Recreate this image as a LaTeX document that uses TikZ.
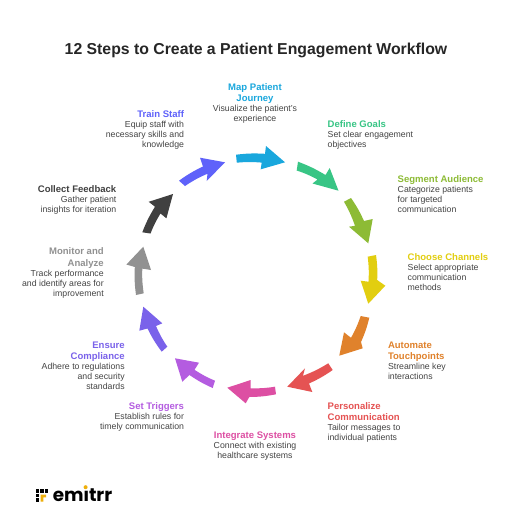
\documentclass[tikz,border=0pt]{standalone}
\usepackage{fontspec}
\setmainfont{Liberation Sans}
\newfontfamily\logofont{Poppins}
\definecolor{cmap}{HTML}{19A7DD}
\definecolor{cgoal}{HTML}{38C585}
\definecolor{cseg}{HTML}{8DBB35}
\definecolor{cchan}{HTML}{E2CE10}
\definecolor{cauto}{HTML}{E0822C}
\definecolor{cpers}{HTML}{E55353}
\definecolor{cinte}{HTML}{DD4FA3}
\definecolor{ctrig}{HTML}{B45CE0}
\definecolor{ccomp}{HTML}{7A62EA}
\definecolor{cmoni}{HTML}{919191}
\definecolor{ccoll}{HTML}{404040}
\definecolor{ctrain}{HTML}{5F62FA}
\definecolor{bodyc}{HTML}{444444}
\newcommand\tl[2]{\textcolor{#1}{\bfseries\fontsize{7.15}{7.5}\selectfont #2}}
\newcommand\arrowshape[8]{%
  \fill[#1] #2 to[bend left=5] #3 -- #4 -- #5 -- #6 -- #7 to[bend right=5] #8 -- cycle;}
\tikzset{
  lab/.style={inner sep=0pt,outer sep=0pt,text=bodyc,font=\fontsize{6.55}{7.5}\selectfont},
  labl/.style={lab,anchor=north west,align=left,yshift=-0.5pt},
  labr/.style={lab,anchor=north east,align=right,yshift=-0.5pt},
  labc/.style={lab,anchor=north,align=center,yshift=-0.5pt},
  sq/.style={fill=black},
}
\begin{document}
\begin{tikzpicture}[x=0.75pt,y=-0.75pt]
\useasboundingbox (0,0) rectangle (508,512);
\fill[white] (0,0) rectangle (508,512);
\node[inner sep=0pt,text=black!85,font=\fontsize{11.85}{14}\selectfont\bfseries] (title) at (256,50) {12 Steps to Create a Patient Engagement Workflow};
% arrows
\arrowshape{cmap}{(236,154.7)}{(265,153.8)}{(266,146)}{(285,162.3)}{(260.7,169.3)}{(261.7,162.6)}{(236.8,162.7)}
\arrowshape{cgoal}{(298,161.7)}{(325.5,175)}{(329.7,168)}{(338.5,190.7)}{(312.5,183.5)}{(317.5,179.5)}{(296.7,170.5)}
\arrowshape{cseg}{(351,198)}{(364,221)}{(372.7,219)}{(368.3,243.3)}{(349,226.7)}{(355,225.8)}{(344,201.7)}
\arrowshape{cchan}{(376,255)}{(377.2,280)}{(385.3,285.7)}{(368.3,303.7)}{(360.7,280.7)}{(368.5,281.7)}{(367.7,256.7)}
\arrowshape{cauto}{(369.3,317.7)}{(361,342)}{(362.7,348.3)}{(339.3,355.7)}{(344,332.3)}{(351,337.8)}{(360.7,316)}
\arrowshape{cpers}{(332.7,370)}{(309,383.5)}{(312.3,392)}{(287.3,386.7)}{(305,368.3)}{(303,375.8)}{(328.3,363.3)}
\arrowshape{cinte}{(276,394.3)}{(249.3,397)}{(245.7,403.3)}{(227.3,387.7)}{(250.7,380)}{(250.7,388.3)}{(275,386.7)}
\arrowshape{ctrig}{(212.7,388)}{(189.5,375)}{(182.3,381.7)}{(175,358.3)}{(199,362.7)}{(194.5,369.8)}{(215,380.7)}
\arrowshape{ccomp}{(161.7,351.7)}{(147.5,328.5)}{(139.3,330.7)}{(143.3,306.7)}{(162.3,323.3)}{(156,326)}{(167.3,346.7)}
\arrowshape{cmoni}{(136,295)}{(134.8,267)}{(126.4,264.5)}{(143.3,246.7)}{(151,270)}{(142.3,268.6)}{(143.7,293.3)}
\arrowshape{ccoll}{(142.3,232.3)}{(155,206.7)}{(148.7,201.8)}{(173,194)}{(166.4,218.3)}{(160.5,213.5)}{(150.5,233.5)}
\arrowshape{ctrain}{(179,180.7)}{(203,166.5)}{(200,157.7)}{(225,162.3)}{(206.7,181)}{(207.5,173.7)}{(185,186)}
% labels
\node[labc] (l1) at (255,82.5) {\tl{cmap}{Map Patient}\\[1.2pt]\tl{cmap}{Journey}\\Visualize the patient's\\experience};
\node[labl] (l2) at (327.7,119.5) {\tl{cgoal}{Define Goals}\\Set clear engagement\\objectives};
\node[labl] (l3) at (397.7,174.5) {\tl{cseg}{Segment Audience}\\Categorize patients\\for targeted\\communication};
\node[labl] (l4) at (407.7,253) {\tl{cchan}{Choose Channels}\\Select appropriate\\communication\\methods};
\node[labl] (l5) at (388,341) {\tl{cauto}{Automate}\\[1.2pt]\tl{cauto}{Touchpoints}\\Streamline key\\interactions};
\node[labl] (l6) at (327.7,401.5) {\tl{cpers}{Personalize}\\[1.2pt]\tl{cpers}{Communication}\\Tailor messages to\\individual patients};
\node[labc] (l7) at (255,431.5) {\tl{cinte}{Integrate Systems}\\Connect with existing\\healthcare systems};
\node[labr] (l8) at (184,401.5) {\tl{ctrig}{Set Triggers}\\Establish rules for\\timely communication};
\node[labr] (l9) at (124.7,341) {\tl{ccomp}{Ensure}\\[1.2pt]\tl{ccomp}{Compliance}\\Adhere to regulations\\and security\\standards};
\node[labr] (l10) at (103.7,247) {\tl{cmoni}{Monitor and}\\[1.2pt]\tl{cmoni}{Analyze}\\Track performance\\and identify areas for\\improvement};
\node[labr] (l11) at (116.3,184.5) {\tl{ccoll}{Collect Feedback}\\Gather patient\\insights for iteration};
\node[labr] (l12) at (184,109.5) {\tl{ctrain}{Train Staff}\\Equip staff with\\necessary skills and\\knowledge};
% logo
\foreach \cx in {37.5,42,46.5}{\foreach \cy in {491,495.5,500}{\fill[sq] (\cx-1.6,\cy-1.6) rectangle (\cx+1.6,\cy+1.6);}}
\fill[white] (40,493.7) rectangle (49,502.5);
\fill[black] (35.9,498.4) rectangle (39.1,501.6);
\fill[cchan!60!orange] (40.5,494.5) -- (46,494.5) -- (46,497.3) -- (43.3,497.3) -- (43.3,501.5) -- (40.5,501.5) -- cycle;
\node[inner sep=0pt,anchor=base west,font=\logofont\fontsize{13.8}{15}\selectfont\bfseries] (logo) at (52.5,501.7) {emitrr};
\fill[white] (82,484.5) rectangle (90,489.8);
\fill[cchan!60!orange] (85.6,487.2) circle (2);
\end{tikzpicture}
\end{document}
